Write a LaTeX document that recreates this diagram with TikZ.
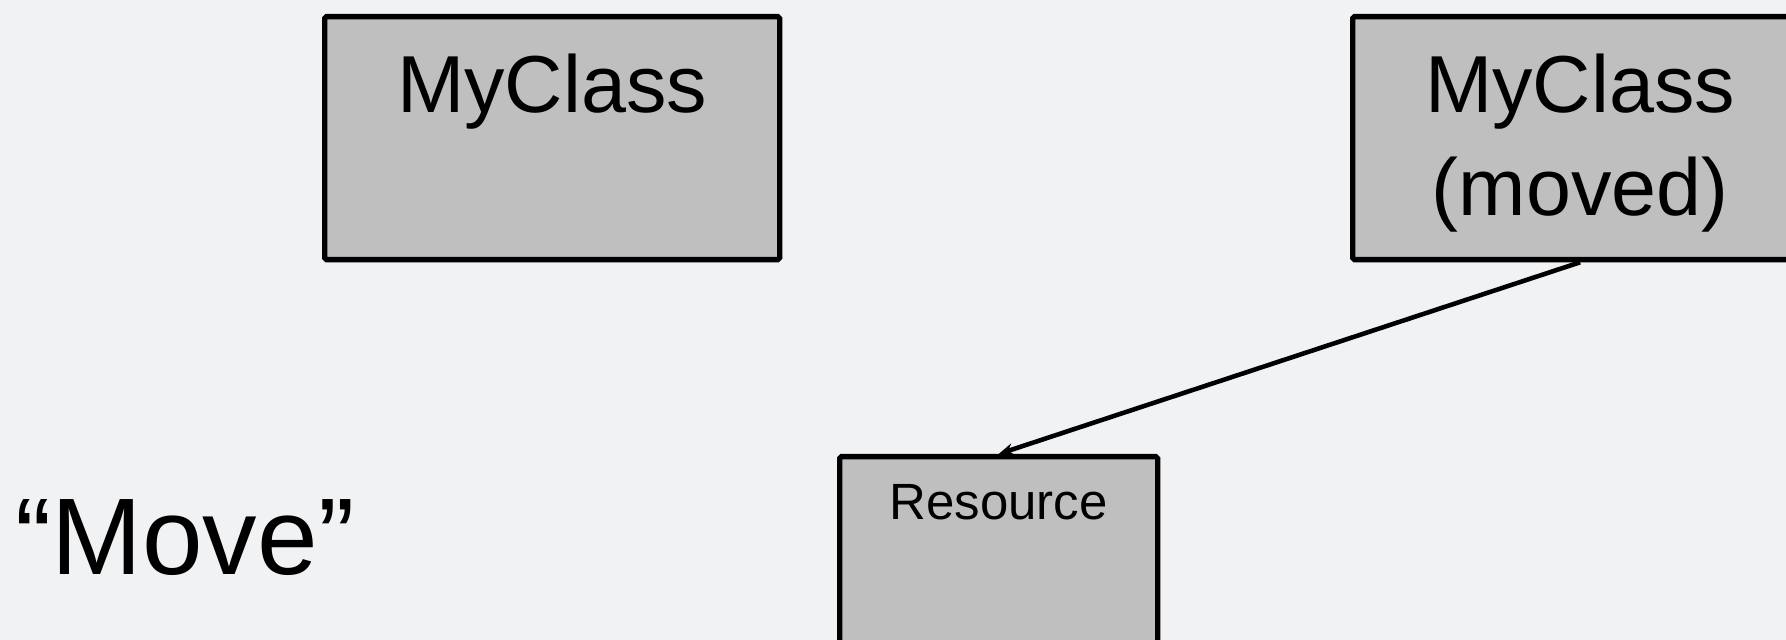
\documentclass[tikz,border=0pt]{standalone}
\usepackage{fontspec}
\setmainfont{Liberation Sans}
\usepackage{xcolor}
\usetikzlibrary{shapes,arrows.meta}
\definecolor{slidebg}{HTML}{F1F2F4}
\definecolor{boxgray}{HTML}{BFBFBF}

\begin{document}
\begin{tikzpicture}
  % Styles
  \tikzset{
    classbox/.style={rectangle, draw=black, fill=boxgray, line width=3pt,
      rounded corners=1pt, inner sep=0pt, minimum width=9.1cm, align=center,
      font=\fontsize{46}{58.6}\selectfont, text height=1.92cm, text depth=2.94cm},
    resbox/.style={rectangle, draw=black, fill=boxgray, line width=3pt,
      rounded corners=1pt, inner sep=0pt, minimum width=6.36cm,
      font=\fontsize{29}{35}\selectfont, text height=1.26cm, text depth=4.5cm},
    title/.style={font=\fontsize{62}{70}\selectfont, inner sep=0pt},
    arrow/.style={-{Stealth[length=0.3cm,width=0.24cm]}, line width=2.6pt, black}
  }

  % Background
  \fill[slidebg] (0,0) rectangle (35.72,-12.8);
  \useasboundingbox (0,0) rectangle (35.72,-12.8);

  % Boxes
  \node[classbox, anchor=north west] (myclass) at (6.44,-0.28) {MyClass};
  \node[classbox, anchor=north west, text height=3.98cm, text depth=0.88cm]
    (moved) at (27.0,-0.28) {MyClass\\(moved)};
  \node[resbox, anchor=north west] (resource) at (16.74,-9.08) {Resource};

  % Title
  \node[title, anchor=base west] (move) at (0.3,-11.5) {“Move”};

  % Arrow
  \draw[arrow] (moved.south) -- (resource.north);

\end{tikzpicture}
\end{document}
